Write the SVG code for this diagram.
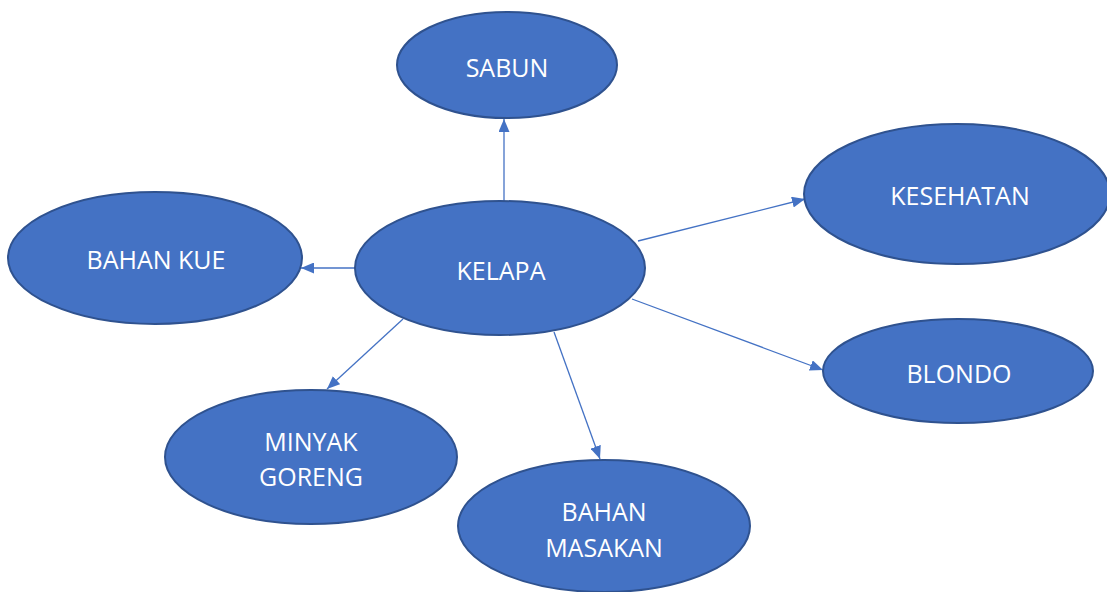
<svg xmlns="http://www.w3.org/2000/svg" width="1107" height="592" viewBox="0 0 1107 592">
<style>
.n{fill:#4472C4;stroke:#2F528F;stroke-width:2}
.t{fill:#fff;font-family:"Open Sans","Liberation Sans",sans-serif;font-size:25px;text-anchor:middle;dominant-baseline:central}
.c{stroke:#4472C4;stroke-width:1.3;fill:none;marker-end:url(#a)}
</style>
<defs>
<marker id="a" viewBox="0 0 13 11" refX="13" refY="5.5" markerWidth="13" markerHeight="11" markerUnits="userSpaceOnUse" orient="auto">
<path d="M0,0 L13,5.5 L0,11 z" fill="#4472C4"/>
</marker>
</defs>
<g id="connectors">
<line class="c" x1="504" y1="202" x2="504" y2="119"/>
<line class="c" x1="356" y1="268" x2="301" y2="268"/>
<line class="c" x1="638" y1="241" x2="805" y2="199"/>
<line class="c" x1="632" y1="299" x2="823" y2="370"/>
<line class="c" x1="403" y1="319" x2="327" y2="389"/>
<line class="c" x1="554" y1="332" x2="600" y2="459"/>
</g>
<g id="sabun"><ellipse class="n" cx="507" cy="65" rx="110" ry="53"/><text class="t" x="507" y="67">SABUN</text></g>
<g id="kesehatan"><ellipse class="n" cx="957" cy="194" rx="153" ry="70"/><text class="t" x="960" y="195">KESEHATAN</text></g>
<g id="bahan-kue"><ellipse class="n" cx="155" cy="258" rx="147" ry="66"/><text class="t" x="156" y="259">BAHAN KUE</text></g>
<g id="kelapa"><ellipse class="n" cx="500" cy="268" rx="145" ry="67"/><text class="t" x="501" y="270">KELAPA</text></g>
<g id="blondo"><ellipse class="n" cx="958" cy="371" rx="135" ry="52"/><text class="t" x="959" y="373">BLONDO</text></g>
<g id="minyak-goreng"><ellipse class="n" cx="311" cy="457" rx="146" ry="67"/><text class="t" x="311" y="441">MINYAK</text><text class="t" x="311" y="476">GORENG</text></g>
<g id="bahan-masakan"><ellipse class="n" cx="604" cy="526" rx="146" ry="66"/><text class="t" x="604" y="511">BAHAN</text><text class="t" x="604" y="547">MASAKAN</text></g>
</svg>
